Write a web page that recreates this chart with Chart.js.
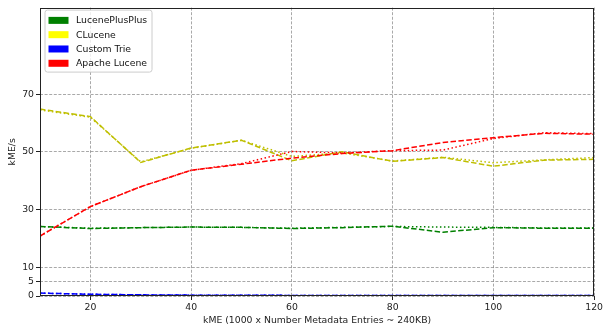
<!DOCTYPE html>
<html>
<head>
<meta charset="utf-8">
<script src="https://cdn.jsdelivr.net/npm/chart.js@4.4.1/dist/chart.umd.min.js"></script>
<style>
  html, body { margin: 0; padding: 0; background: #fff; }
  #wrap { width: 605px; height: 331px; position: relative; }
</style>
</head>
<body>
<div id="wrap"><canvas id="c" width="605" height="331"></canvas></div>
<script>
// Metadata entries, in thousands (kME)
const entries = [10, 20, 30, 40, 50, 60, 70, 80, 90, 100, 110, 120];

// Throughput in kME/s, two runs per library (dashed / dotted)
const lucenePlusPlusRunA = [24.1, 23.4, 23.7, 23.9, 23.8, 23.4, 23.7, 24.2, 22.1, 23.7, 23.5, 23.5];
const lucenePlusPlusRunB = [24.1, 23.5, 23.7, 23.9, 23.8, 23.5, 23.8, 24.1, 23.9, 23.8, 23.6, 23.6];
const cluceneRunA = [64.8, 62.2, 46.3, 51.3, 54.0, 46.9, 50.0, 46.7, 48.0, 45.0, 47.1, 47.4];
const cluceneRunB = [64.5, 62.0, 46.5, 51.2, 54.0, 48.4, 49.6, 46.8, 48.1, 46.2, 47.2, 48.0];
const customTrieRunA = [1.0, 0.6, 0.4, 0.3, 0.3, 0.2, 0.2, 0.2, 0.2, 0.2, 0.2, 0.2];
const customTrieRunB = [1.0, 0.6, 0.4, 0.3, 0.3, 0.2, 0.2, 0.2, 0.2, 0.2, 0.2, 0.2];
const apacheLuceneRunA = [20.8, 31.0, 37.9, 43.6, 45.7, 47.8, 49.4, 50.4, 53.2, 54.9, 56.4, 56.1];
const apacheLuceneRunB = [20.8, 31.0, 37.9, 43.6, 45.9, 50.1, 49.6, 50.4, 50.6, 54.6, 56.6, 56.3];

const seriesNames = ['LucenePlusPlus', 'CLucene', 'Custom Trie', 'Apache Lucene'];
const yTicks = [0, 5, 10, 30, 50, 70];
const xTicks = [20, 40, 60, 80, 100, 120];

const FONT = 'DejaVu Sans';
const FS = 9.3;

const lineColors = ['#008000', '#bfbf00', '#0000ff', '#ff0000'];
const patchColors = ['#008000', '#ffff00', '#0000ff', '#ff0000'];
const runs = [
  [lucenePlusPlusRunA, lucenePlusPlusRunB],
  [cluceneRunA, cluceneRunB],
  [customTrieRunA, customTrieRunB],
  [apacheLuceneRunA, apacheLuceneRunB]
];

const datasets = [];
runs.forEach((pair, i) => {
  pair.forEach((vals, j) => {
    datasets.push({
      label: seriesNames[i],
      data: entries.map((x, k) => ({ x: x, y: vals[k] })),
      borderColor: lineColors[i],
      backgroundColor: lineColors[i],
      borderWidth: 1.5,
      borderDash: j === 0 ? [5.5, 2.4] : [1.5, 2.5],
      pointRadius: 0,
      tension: 0,
      fill: false,
      order: 10 - i * 2 - j
    });
  });
});

// Legend with coloured patches, drawn inside the plot area
const patchLegend = {
  id: 'patchLegend',
  afterDraw(chart) {
    const ctx = chart.ctx;
    const ca = chart.chartArea;
    const x0 = ca.left + 5, y0 = ca.top + 2.5, w = 107, h = 62;
    ctx.save();
    ctx.beginPath();
    if (ctx.roundRect) ctx.roundRect(x0, y0, w, h, 2.5); else ctx.rect(x0, y0, w, h);
    ctx.fillStyle = 'rgba(255,255,255,0.8)';
    ctx.fill();
    ctx.strokeStyle = '#cccccc';
    ctx.lineWidth = 1;
    ctx.stroke();
    ctx.font = FS + 'px "' + FONT + '"';
    ctx.textBaseline = 'middle';
    ctx.textAlign = 'left';
    seriesNames.forEach((name, i) => {
      const cy = y0 + 10.3 + i * 14.3;
      ctx.fillStyle = patchColors[i];
      ctx.fillRect(x0 + 3.5, cy - 3.5, 20, 7);
      ctx.fillStyle = '#111';
      ctx.fillText(name, x0 + 31, cy + 0.5);
    });
    ctx.restore();
  }
};

// Full axes frame
const frame = {
  id: 'frame',
  afterDatasetsDraw(chart) {
    const ctx = chart.ctx;
    const ca = chart.chartArea;
    ctx.save();
    ctx.strokeStyle = '#222';
    ctx.lineWidth = 1;
    ctx.strokeRect(Math.round(ca.left) + 0.5, Math.round(ca.top) + 0.5,
      Math.round(ca.right - ca.left) - 1, Math.round(ca.bottom - ca.top) - 1);
    ctx.restore();
  }
};

const gridOpts = {
  color: 'rgba(128,128,128,0.85)',
  lineWidth: 0.8,
  drawTicks: true,
  tickLength: 4,
  tickColor: '#222',
  tickWidth: 1,
  tickBorderDash: []
};
const borderOpts = { display: false, dash: [3, 1.6] };

new Chart(document.getElementById('c'), {
  type: 'line',
  data: { datasets: datasets },
  options: {
    responsive: false,
    animation: false,
    devicePixelRatio: 1,
    layout: { padding: { left: 0, right: 8, top: 5, bottom: 0 } },
    plugins: { legend: { display: false }, tooltip: { enabled: false } },
    scales: {
      x: {
        type: 'linear',
        min: 10, max: 120,
        afterBuildTicks: s => { s.ticks = xTicks.map(v => ({ value: v })); },
        afterFit: s => { s.height = 35; },
        ticks: { color: '#222', font: { family: FONT, size: FS }, padding: 2, maxRotation: 0 },
        grid: gridOpts,
        border: borderOpts,
        title: {
          display: true,
          text: 'kME (1000 x Number Metadata Entries ~ 240KB)',
          color: '#222',
          font: { family: FONT, size: FS },
          padding: { top: 2, bottom: 5 }
        }
      },
      y: {
        type: 'linear',
        min: 0, max: 100,
        afterBuildTicks: s => { s.ticks = yTicks.map(v => ({ value: v })); },
        afterFit: s => { s.width = 40; },
        ticks: { color: '#222', font: { family: FONT, size: FS }, padding: 2 },
        grid: gridOpts,
        border: borderOpts,
        title: {
          display: true,
          text: 'kME/s',
          color: '#222',
          font: { family: FONT, size: FS },
          padding: { top: 7, bottom: 2 }
        }
      }
    }
  },
  plugins: [frame, patchLegend]
});
</script>
</body>
</html>
